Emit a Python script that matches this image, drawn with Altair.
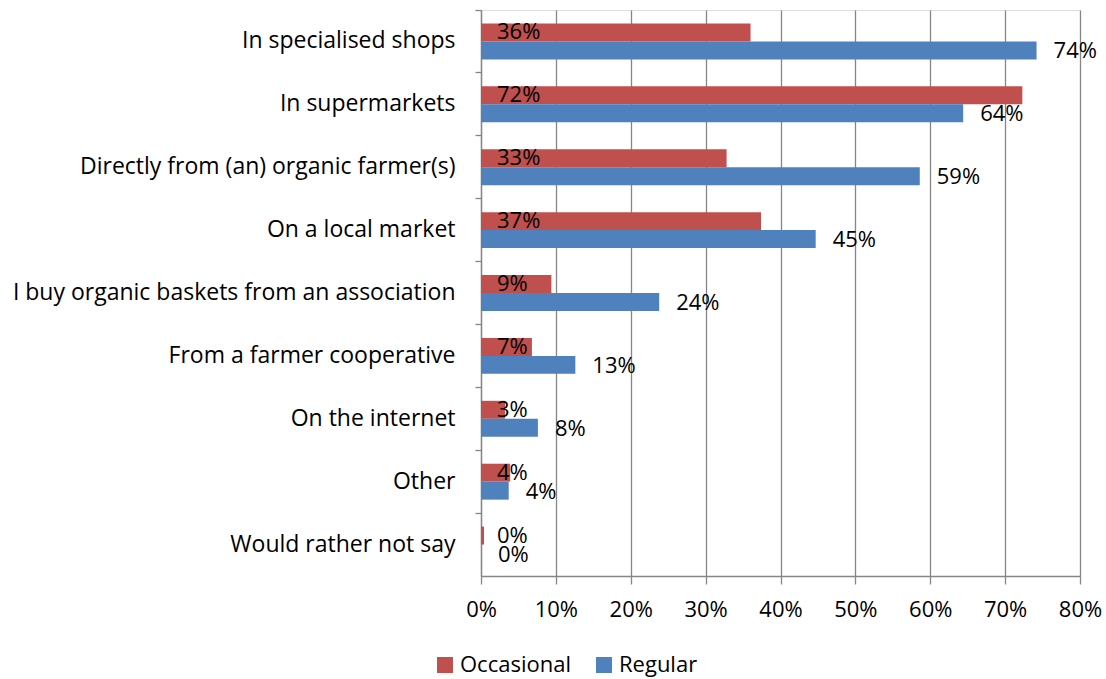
import altair as alt
import pandas as pd

categories = [
    "In specialised shops",
    "In supermarkets",
    "Directly from (an) organic farmer(s)",
    "On a local market",
    "I buy organic baskets from an association",
    "From a farmer cooperative",
    "On the internet",
    "Other",
    "Would rather not say",
]
occasional = [36.0, 72.3, 32.8, 37.4, 9.4, 6.8, 3.2, 3.9, 0.4]
regular = [74.2, 64.4, 58.6, 44.7, 23.8, 12.6, 7.6, 3.7, 0.0]
series = ["Occasional", "Regular"]
colors = ["#C0504D", "#4F81BD"]
x_ticks = [0, 10, 20, 30, 40, 50, 60, 70, 80]

rows = []
for c, o, r in zip(categories, occasional, regular):
    rows.append({"cat": c, "series": "Occasional", "value": o, "label": f"{round(o)}%"})
    rows.append({"cat": c, "series": "Regular", "value": r, "label": f"{round(r)}%"})
df = pd.DataFrame(rows)

FONT = "Open Sans"
FS = 22

y_enc = alt.Y("cat:N", sort=categories, title=None,
              scale=alt.Scale(paddingInner=0, paddingOuter=0),
              axis=alt.Axis(bandPosition=0, labelFontSize=23, labelFont=FONT, labelColor="#000000",
                            labelPadding=20, tickSize=6, tickColor="#868686", domainColor="#868686",
                            labelLimit=600, grid=False, domainWidth=1.3, tickWidth=1.3))
yoff = alt.YOffset("series:N", sort=series,
                   scale=alt.Scale(paddingInner=0, paddingOuter=0.75))
x_scale = alt.Scale(domain=[0, 80], nice=False)

bars = alt.Chart(df).mark_bar().encode(
    y=y_enc,
    yOffset=yoff,
    x=alt.X("value:Q", scale=x_scale, title=None,
            axis=alt.Axis(values=x_ticks, labelExpr="datum.value + '%'", labelFontSize=FS,
                          labelFont=FONT, labelColor="#000000", labelPadding=15, tickSize=8,
                          labelFlush=False, labelOverlap=False,
                          tickColor="#868686", domainColor="#868686", gridColor="#868686",
                          gridWidth=1.3, domainWidth=1.3, tickWidth=1.3)),
    color=alt.Color("series:N", sort=series,
                    scale=alt.Scale(domain=series, range=colors),
                    legend=alt.Legend(title=None, orient="none", direction="horizontal",
                                      legendX=-47, legendY=644, labelFontSize=FS, labelFont=FONT,
                                      labelColor="#000000", symbolType="square", symbolSize=256,
                                      symbolStrokeWidth=0, columnPadding=22, labelOffset=4)),
)

occ_labels = alt.Chart(df).transform_filter("datum.series == 'Occasional'").mark_text(
    align="left", baseline="middle", dx=16, fontSize=FS, font=FONT, color="#000000"
).encode(
    y=alt.Y("cat:N", sort=categories),
    yOffset=yoff,
    x=alt.datum(0, scale=x_scale),
    text="label:N",
)

reg_labels = alt.Chart(df).transform_filter("datum.series == 'Regular'").mark_text(
    align="left", baseline="middle", dx=17, dy=1, fontSize=FS, font=FONT, color="#000000"
).encode(
    y=alt.Y("cat:N", sort=categories),
    yOffset=yoff,
    x=alt.X("value:Q", scale=x_scale),
    text="label:N",
)

chart = alt.layer(bars, occ_labels, reg_labels).properties(
    width=599, height=566,
    autosize=alt.AutoSizeParams(type="none"),
    padding={"left": 481, "top": 10, "right": 26, "bottom": 103},
).configure_view(stroke=None).configure(background="#ffffff")

chart.save("out.html", embed_options={"renderer": "svg", "actions": False})
